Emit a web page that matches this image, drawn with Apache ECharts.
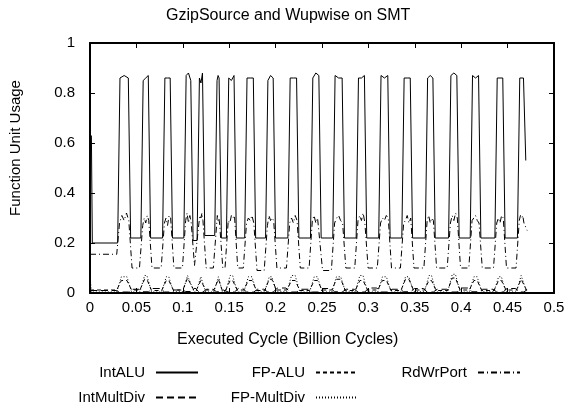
<!DOCTYPE html>
<html>
<head>
<meta charset="utf-8">
<script src="https://cdn.jsdelivr.net/npm/echarts@6/dist/echarts.min.js"></script>
<style>
  html, body { margin: 0; padding: 0; background: #fff; }
  #chart { width: 585px; height: 403px; }
</style>
</head>
<body>
<div id="chart"></div>
<script>
// x ticks and y ticks
const xTicks = [0, 0.05, 0.1, 0.15, 0.2, 0.25, 0.3, 0.35, 0.4, 0.45, 0.5];
const yTicks = [0, 0.2, 0.4, 0.6, 0.8, 1];

// phase edges of the IntALU square wave (billion cycles)
const riseX = [0.0298, 0.0548, 0.0782, 0.1011, 0.1154, 0.1344, 0.1470, 0.1667, 0.1892, 0.2132,
               0.2376, 0.2616, 0.2868, 0.3111, 0.3360, 0.3613, 0.3864, 0.4097, 0.4363, 0.4606];
const fallX = [0.0438, 0.0653, 0.0889, 0.1111, 0.1237, 0.1416, 0.1577, 0.1785, 0.1999, 0.2251,
               0.2491, 0.2742, 0.2982, 0.3234, 0.3476, 0.3720, 0.3978, 0.4212, 0.4473, 0.4696];

// IntALU: plateau values per pulse, low value after each pulse
const intAluTop = [[0.86,0.87,0.86],[0.85,0.86,0.87],[0.86,0.86,0.86],[0.87,0.88,0.85],[0.86,0.84,0.88],
                   [0.85,0.87,0.86],[0.86,0.85,0.87],[0.86,0.86,0.86],[0.85,0.87,0.86],[0.86,0.86,0.86],
                   [0.86,0.88,0.87],[0.87,0.86,0.86],[0.86,0.86,0.87],[0.87,0.86,0.87],[0.86,0.86,0.86],
                   [0.86,0.87,0.86],[0.87,0.88,0.87],[0.87,0.86,0.87],[0.86,0.86,0.86],[0.86,0.86,0.86]];
const intAluLow = [0.22,0.22,0.22,0.21,0.23,0.22,0.22,0.22,0.22,0.22,
                   0.22,0.22,0.22,0.22,0.22,0.22,0.22,0.22,0.22,0.53];
const intAluStart = [[0.0015, 0.63], [0.0025, 0.20]];

// RdWrPort
const rdWrTop = [[0.28,0.31,0.29,0.32,0.29],[0.27,0.30,0.28,0.31,0.29],[0.28,0.30,0.27,0.31,0.30],
                 [0.29,0.32,0.28,0.31,0.28],[0.28,0.31,0.30,0.32,0.29],[0.27,0.31,0.29,0.30,0.28],
                 [0.29,0.28,0.31,0.30,0.31],[0.28,0.30,0.29,0.31,0.28],[0.27,0.31,0.29,0.30,0.29],
                 [0.28,0.30,0.28,0.31,0.29],[0.29,0.31,0.28,0.30,0.30],[0.28,0.30,0.31,0.29,0.28],
                 [0.29,0.31,0.29,0.32,0.28],[0.28,0.30,0.29,0.31,0.30],[0.28,0.29,0.31,0.28,0.30],
                 [0.29,0.31,0.28,0.30,0.29],[0.28,0.31,0.29,0.32,0.30],[0.29,0.30,0.31,0.29,0.28],
                 [0.28,0.30,0.28,0.31,0.30],[0.29,0.31,0.30,0.31,0.28]];
const rdWrLow = [0.10,0.10,0.10,0.11,0.10,0.10,0.10,0.09,0.10,0.10,
                 0.09,0.10,0.10,0.10,0.10,0.10,0.10,0.10,0.10,0.25];
const rdWrStart = 0.155;

// FP-ALU
const fpAluTop = [0.05,0.055,0.05,0.06,0.05,0.055,0.05,0.05,0.055,0.05,
                  0.05,0.055,0.05,0.05,0.055,0.05,0.06,0.05,0.05,0.055];
const fpAluLow = [0.012,0.01,0.012,0.01,0.012,0.01,0.012,0.01,0.012,0.01,
                  0.012,0.01,0.012,0.01,0.012,0.01,0.012,0.01,0.012,0.01];
const fpAluStart = 0.012;

// FP-MultDiv
const fpMultTop = [0.065,0.07,0.065,0.07,0.065,0.065,0.07,0.065,0.065,0.07,
                   0.065,0.065,0.07,0.065,0.065,0.07,0.075,0.065,0.065,0.07];
const fpMultLow = [0.004,0.004,0.005,0.004,0.004,0.005,0.004,0.004,0.005,0.004,
                   0.004,0.005,0.004,0.004,0.005,0.004,0.004,0.005,0.004,0.004];
const fpMultStart = [0.07, 0.004];

// IntMultDiv
const intMultTop = [0.004,0.005,0.004,0.006,0.004,0.005,0.004,0.004,0.005,0.004,
                    0.004,0.005,0.004,0.004,0.005,0.004,0.004,0.005,0.004,0.004];
const intMultLow = [0.015,0.018,0.012,0.02,0.015,0.012,0.018,0.015,0.02,0.015,
                    0.018,0.015,0.02,0.015,0.018,0.015,0.02,0.015,0.018,0.015];
const intMultStart = 0.01;

// build [x, y] lines from the pulse edges and the read levels
function pulseLine(start, tops, lows, ramp, dropGap) {
  const pts = start.slice();
  for (let i = 0; i < riseX.length; i++) {
    const r = riseX[i] + ramp, f = fallX[i] - ramp;
    const t = Array.isArray(tops[i]) ? tops[i] : [tops[i], tops[i]];
    t.forEach((v, k) => pts.push([r + (f - r) * k / (t.length - 1), v]));
    pts.push([fallX[i] + dropGap, lows[i]]);
    if (i < riseX.length - 1) pts.push([riseX[i + 1] - dropGap, lows[i]]);
  }
  return pts;
}

const intAluData = pulseLine(intAluStart.concat([[riseX[0], intAluStart[1][1]]]),
  intAluTop, intAluLow, 0.0025, 0);
const rdWrData = pulseLine([[0, rdWrStart], [riseX[0] - 0.001, rdWrStart]], rdWrTop, rdWrLow, 0.002, 0.0015);
const fpAluData = pulseLine([[0, fpAluStart], [riseX[0] - 0.001, fpAluStart]], fpAluTop, fpAluLow, 0.004, 0.001);
const fpMultData = pulseLine([[0, fpMultStart[0]], [0.0015, fpMultStart[1]], [riseX[0] - 0.001, fpMultStart[1]]],
  fpMultTop, fpMultLow, 0.004, 0.001);
const intMultData = pulseLine([[0, intMultStart], [riseX[0] - 0.001, intMultStart]], intMultTop, intMultLow, 0.002, 0.002);

const font = "'Liberation Sans', Arial, sans-serif";
const black = '#000';

function lineSeries(name, data, dash) {
  return {
    name: name,
    type: 'line',
    data: data,
    symbol: 'none',
    silent: true,
    animation: false,
    lineStyle: { color: black, width: 1, type: dash },
    itemStyle: { color: black }
  };
}

function legendBlock(names, right) {
  return {
    data: names,
    orient: 'vertical',
    align: 'right',
    right: right,
    top: 365,
    height: 60,
    padding: 0,
    itemWidth: 42,
    itemHeight: 15,
    itemGap: 10,
    itemStyle: { opacity: 0 },
    textStyle: { color: black, fontSize: 15, fontFamily: font, padding: [0, 6, 0, 0] }
  };
}

var myChart = echarts.init(document.getElementById('chart'));
myChart.setOption({
  animation: false,
  backgroundColor: '#fff',
  title: [
    {
      text: 'GzipSource and Wupwise on SMT',
      left: 166,
      top: 8,
      padding: 0,
      textStyle: { color: black, fontSize: 16, fontWeight: 'normal', fontFamily: font }
    },
    {
      text: 'Executed Cycle (Billion Cycles)',
      left: 177,
      top: 332,
      padding: 0,
      textStyle: { color: black, fontSize: 16, fontWeight: 'normal', fontFamily: font }
    }
  ],
  graphic: [
    {
      type: 'text',
      x: 16,
      y: 148,
      rotation: Math.PI / 2,
      style: {
        text: 'Function Unit Usage',
        fill: black,
        font: '15px ' + font,
        align: 'center',
        verticalAlign: 'middle'
      }
    }
  ],
  grid: { left: 90, right: 31, top: 43, bottom: 110 },
  legend: [
    legendBlock(['IntALU', 'IntMultDiv'], 386),
    legendBlock(['FP-ALU', 'FP-MultDiv'], 226),
    legendBlock(['RdWrPort'], 64)
  ],
  xAxis: [
    {
      type: 'value', min: xTicks[0], max: xTicks[xTicks.length - 1], interval: 0.05,
      axisLine: { show: true, onZero: false, lineStyle: { color: black, width: 2 } },
      axisTick: { show: true, inside: true, length: 5, lineStyle: { color: black } },
      axisLabel: { color: black, fontSize: 15, fontFamily: font, margin: 7 },
      splitLine: { show: false }
    },
    {
      type: 'value', position: 'top', min: xTicks[0], max: xTicks[xTicks.length - 1], interval: 0.05,
      axisLine: { show: true, onZero: false, lineStyle: { color: black, width: 2 } },
      axisTick: { show: true, inside: true, length: 5, lineStyle: { color: black } },
      axisLabel: { show: false },
      splitLine: { show: false }
    }
  ],
  yAxis: [
    {
      type: 'value', min: yTicks[0], max: yTicks[yTicks.length - 1], interval: 0.2,
      axisLine: { show: true, onZero: false, lineStyle: { color: black, width: 2 } },
      axisTick: { show: true, inside: true, length: 5, lineStyle: { color: black } },
      axisLabel: { color: black, fontSize: 15, fontFamily: font, margin: 15 },
      splitLine: { show: false }
    },
    {
      type: 'value', position: 'right', min: yTicks[0], max: yTicks[yTicks.length - 1], interval: 0.2,
      axisLine: { show: true, onZero: false, lineStyle: { color: black, width: 2 } },
      axisTick: { show: true, inside: true, length: 5, lineStyle: { color: black } },
      axisLabel: { show: false },
      splitLine: { show: false }
    }
  ],
  series: [
    lineSeries('IntALU', intAluData, 'solid'),
    lineSeries('IntMultDiv', intMultData, [7, 4]),
    lineSeries('FP-ALU', fpAluData, [4, 3]),
    lineSeries('FP-MultDiv', fpMultData, [1, 2]),
    lineSeries('RdWrPort', rdWrData, [6, 3, 1, 3])
  ]
});
</script>
</body>
</html>
